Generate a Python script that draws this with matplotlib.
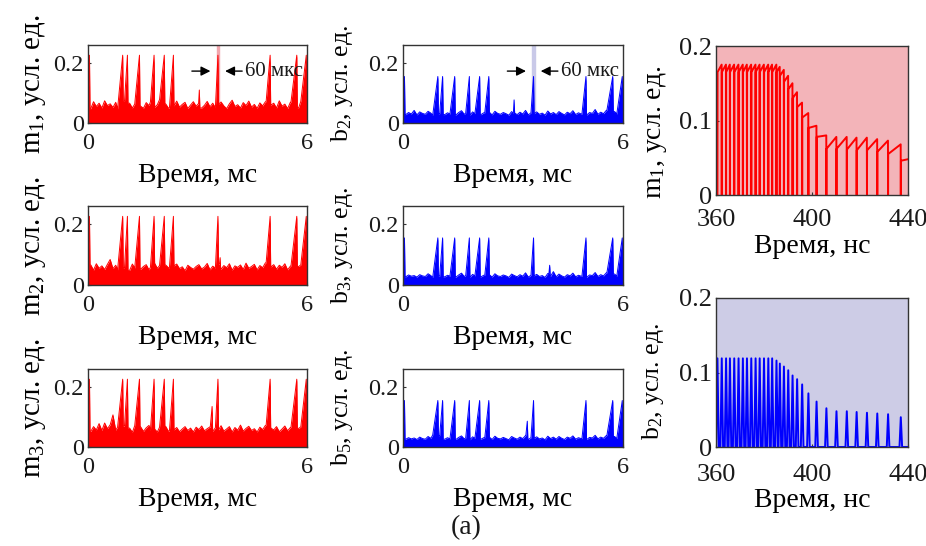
import numpy as np
import matplotlib
matplotlib.use("Agg")
import matplotlib.pyplot as plt

plt.rcParams["font.family"] = ["Liberation Serif", "DejaVu Serif"]
plt.rcParams["mathtext.fontset"] = "custom"
plt.rcParams["mathtext.rm"] = "Liberation Serif"
plt.rcParams["mathtext.it"] = "Liberation Serif:italic"
plt.rcParams["text.color"] = "#1a1a1a"

# ---- left / middle panels: slow time traces, 0..6 ms ----
spike_t = [0.04, 0.95, 1.08, 1.41, 1.81, 2.09, 2.34, 3.56, 4.99, 5.72, 5.98]
spike_w = [0.04, 0.14, 0.08, 0.13, 0.10, 0.13, 0.11, 0.07, 0.11, 0.16, 0.15]

m1_base = [0.062, 0.048, 0.071, 0.055, 0.066, 0.050, 0.074, 0.058, 0.064, 0.052,
           0.069, 0.047, 0.060, 0.072, 0.054, 0.066, 0.050, 0.063, 0.075, 0.056,
           0.049, 0.068, 0.058, 0.070, 0.052, 0.061, 0.078, 0.055, 0.064, 0.050,
           0.067, 0.057, 0.073, 0.053, 0.062, 0.069, 0.048, 0.060, 0.071, 0.056,
           0.065, 0.050, 0.059, 0.072, 0.054, 0.066, 0.051, 0.063, 0.070, 0.057,
           0.048, 0.064, 0.076, 0.055, 0.061, 0.050, 0.068, 0.058, 0.073, 0.053,
           0.062, 0.049, 0.067, 0.057, 0.071, 0.052, 0.060, 0.066, 0.050, 0.074,
           0.056, 0.063, 0.048, 0.069, 0.058, 0.065, 0.051, 0.072, 0.055, 0.060]
m2_base = [0.058, 0.066, 0.049, 0.070, 0.055, 0.063, 0.051, 0.068, 0.084, 0.054,
           0.065, 0.050, 0.071, 0.057, 0.062, 0.048, 0.069, 0.056, 0.073, 0.052,
           0.061, 0.067, 0.050, 0.058, 0.072, 0.055, 0.064, 0.049, 0.066, 0.057,
           0.052, 0.063, 0.069, 0.054, 0.060, 0.047, 0.065, 0.058, 0.052, 0.061,
           0.067, 0.053, 0.059, 0.071, 0.050, 0.062, 0.056, 0.068, 0.052, 0.064,
           0.057, 0.070, 0.049, 0.063, 0.058, 0.066, 0.051, 0.072, 0.055, 0.061,
           0.068, 0.050, 0.064, 0.057, 0.073, 0.053, 0.060, 0.067, 0.052, 0.065,
           0.058, 0.070, 0.050, 0.062, 0.069, 0.054, 0.061, 0.066, 0.052, 0.063]
m3_base = [0.060, 0.052, 0.068, 0.057, 0.078, 0.055, 0.080, 0.061, 0.074, 0.107,
           0.056, 0.066, 0.051, 0.070, 0.058, 0.063, 0.049, 0.071, 0.055, 0.067,
           0.052, 0.064, 0.072, 0.056, 0.060, 0.050, 0.066, 0.058, 0.069, 0.053,
           0.062, 0.057, 0.065, 0.051, 0.060, 0.068, 0.055, 0.063, 0.050, 0.066,
           0.058, 0.070, 0.054, 0.061, 0.067, 0.052, 0.064, 0.057, 0.071, 0.053,
           0.060, 0.068, 0.050, 0.065, 0.056, 0.073, 0.053, 0.062, 0.069, 0.055,
           0.061, 0.050, 0.066, 0.058, 0.072, 0.052, 0.063, 0.057, 0.068, 0.051,
           0.060, 0.070, 0.054, 0.065, 0.080, 0.057, 0.062, 0.067, 0.052, 0.061]
b2_base = [0.040, 0.028, 0.035, 0.030, 0.042, 0.027, 0.037, 0.032, 0.029, 0.039,
           0.033, 0.026, 0.036, 0.031, 0.044, 0.028, 0.034, 0.030, 0.038, 0.027,
           0.035, 0.041, 0.029, 0.033, 0.026, 0.037, 0.031, 0.045, 0.028, 0.034,
           0.030, 0.036, 0.027, 0.039, 0.032, 0.029, 0.035, 0.031, 0.026, 0.038,
           0.033, 0.028, 0.036, 0.030, 0.042, 0.027, 0.034, 0.031, 0.037, 0.029,
           0.033, 0.026, 0.040, 0.030, 0.035, 0.028, 0.038, 0.032, 0.027, 0.036,
           0.031, 0.041, 0.028, 0.034, 0.030, 0.039, 0.027, 0.035, 0.032, 0.045,
           0.029, 0.036, 0.031, 0.042, 0.028, 0.034, 0.038, 0.030, 0.036, 0.033]
b3_base = [0.036, 0.027, 0.033, 0.029, 0.031, 0.026, 0.034, 0.030, 0.028, 0.037,
           0.031, 0.025, 0.042, 0.029, 0.035, 0.027, 0.032, 0.029, 0.036, 0.026,
           0.033, 0.039, 0.028, 0.031, 0.025, 0.035, 0.030, 0.041, 0.027, 0.032,
           0.029, 0.034, 0.026, 0.037, 0.030, 0.028, 0.033, 0.030, 0.025, 0.036,
           0.031, 0.027, 0.034, 0.029, 0.040, 0.026, 0.032, 0.030, 0.035, 0.028,
           0.031, 0.025, 0.038, 0.029, 0.044, 0.027, 0.036, 0.030, 0.026, 0.034,
           0.030, 0.039, 0.027, 0.032, 0.029, 0.037, 0.026, 0.033, 0.031, 0.041,
           0.028, 0.034, 0.030, 0.040, 0.027, 0.032, 0.036, 0.029, 0.034, 0.031]
b5_base = [0.034, 0.026, 0.031, 0.027, 0.030, 0.025, 0.033, 0.028, 0.026, 0.035,
           0.029, 0.040, 0.030, 0.038, 0.033, 0.026, 0.031, 0.027, 0.035, 0.025,
           0.032, 0.037, 0.027, 0.030, 0.024, 0.034, 0.029, 0.039, 0.026, 0.031,
           0.028, 0.033, 0.025, 0.036, 0.029, 0.027, 0.032, 0.028, 0.024, 0.035,
           0.030, 0.026, 0.033, 0.028, 0.038, 0.025, 0.031, 0.029, 0.034, 0.027,
           0.030, 0.024, 0.036, 0.028, 0.033, 0.026, 0.035, 0.029, 0.025, 0.033,
           0.029, 0.037, 0.026, 0.031, 0.028, 0.036, 0.025, 0.032, 0.030, 0.039,
           0.027, 0.033, 0.029, 0.038, 0.026, 0.031, 0.035, 0.028, 0.033, 0.030]

m_peak = 0.226
b_peak = 0.155
# extra small peaks: (time, height, width)
m1_small = [(3.05, 0.110, 0.02)]
m2_small = [(3.62, 0.090, 0.02)]
m3_small = [(3.40, 0.135, 0.05)]
b2_small = [(3.03, 0.077, 0.02)]
b3_small = [(4.00, 0.065, 0.02)]
b5_small = [(3.39, 0.086, 0.04)]

# ---- right panels: fast time, 360..440 ns ----
pulse_t = [360.6, 362.4, 364.2, 365.8, 367.6, 369.4, 371.2, 372.9, 374.7, 376.5,
           378.2, 380.0, 381.8, 383.4, 385.2, 386.6, 388.3, 390.1, 391.9, 393.8,
           395.9, 398.5, 401.9, 406.0, 410.2, 414.5, 418.6, 422.9, 427.2, 431.7, 437.0]
b2_fast = [0.119, 0.119, 0.119, 0.119, 0.119, 0.119, 0.119, 0.119, 0.119, 0.119,
           0.119, 0.119, 0.119, 0.119, 0.116, 0.112, 0.108, 0.103, 0.096, 0.091,
           0.084, 0.072, 0.061, 0.052, 0.048, 0.048, 0.047, 0.046, 0.045, 0.044, 0.040]
m1_lo = [0.165, 0.165, 0.165, 0.165, 0.165, 0.165, 0.165, 0.165, 0.165, 0.165,
         0.165, 0.165, 0.165, 0.165, 0.165, 0.160, 0.152, 0.142, 0.130, 0.118,
         0.104, 0.090, 0.078, 0.062, 0.062, 0.061, 0.060, 0.060, 0.058, 0.055, 0.046]
m1_hi = [0.175, 0.175, 0.175, 0.175, 0.175, 0.175, 0.175, 0.175, 0.175, 0.175,
         0.175, 0.175, 0.175, 0.175, 0.172, 0.168, 0.160, 0.150, 0.138, 0.124,
         0.110, 0.093, 0.080, 0.078, 0.078, 0.077, 0.077, 0.075, 0.073, 0.068, 0.048]


def build_trace(base, height, small):
    base = np.asarray(base)
    t = np.linspace(0, 6, len(base))
    peaks = [(tp, height, w) for tp, w in zip(spike_t, spike_w)] + list(small)
    keep = np.ones(len(t), bool)
    for tp, h, w in peaks:
        keep &= ~((t > tp - w) & (t < tp + 0.02))
    pts = list(zip(t[keep], base[keep]))
    for tp, h, w in peaks:
        foot = base[np.argmin(np.abs(t - (tp - w)))]
        after = base[np.argmin(np.abs(t - (tp + 0.03)))]
        pts += [(max(tp - w, 0), foot), (tp, h), (min(tp + 0.015, 6), after)]
    pts.sort()
    return np.array(pts).T


def fast_m(times, lo, hi, end=440.0):
    xs, ys = [], []
    edges = list(times) + [end]
    for i in range(len(times)):
        xs += [edges[i], edges[i] + 0.05, edges[i + 1] - 0.05]
        ys += [0.0, lo[i], hi[i]]
    xs.append(end)
    ys.append(hi[-1])
    return np.array(xs), np.array(ys)


def fast_b(times, peaks, half=0.55):
    xs, ys = [360.0], [0.0]
    for tp, h in zip(times, peaks):
        xs += [tp - half, tp, tp + half]
        ys += [0.0, h, 0.0]
    xs.append(440.0)
    ys.append(0.0)
    return np.array(xs), np.array(ys)


W, H = 926, 546
fig = plt.figure(figsize=(W / 100, H / 100), dpi=100)


def add_ax(x0, y0, x1, y1):
    return fig.add_axes([x0 / W, 1 - y1 / H, (x1 - x0) / W, (y1 - y0) / H])


def style(ax, size, xpad):
    for s in ax.spines.values():
        s.set_color("#333333")
        s.set_linewidth(1.0)
    ax.tick_params(direction="in", length=2.5, labelsize=size, pad=3,
                   colors="#333333", labelcolor="#1a1a1a")
    ax.tick_params(axis="x", pad=xpad)


rows = [(45, 123), (206, 285), (369, 447)]
left_panels = [(m1_base, m1_small, r"m$_1$, усл. ед."),
               (m2_base, m2_small, r"m$_2$, усл. ед."),
               (m3_base, m3_small, r"m$_3$, усл. ед.")]
mid_panels = [(b2_base, b2_small, r"b$_2$, усл. ед."),
              (b3_base, b3_small, r"b$_3$, усл. ед."),
              (b5_base, b5_small, r"b$_5$, усл. ед.")]

for col, panels, color, hgt, x0, x1 in [(0, left_panels, "#ff0000", m_peak, 88, 307),
                                          (1, mid_panels, "#0000ff", b_peak, 403, 623)]:
    for r, (base, small, lab) in enumerate(panels):
        ax = add_ax(x0, rows[r][0], x1, rows[r][1])
        t, y = build_trace(base, hgt, small)
        ax.fill_between(t, 0, y, color=color, lw=0)
        ax.plot(t, y, color=color, lw=0.7)
        ax.set_xlim(0, 6)
        ax.set_ylim(0, 0.26)
        ax.set_xticks([0, 6])
        ax.set_yticks([0, 0.2])
        ax.set_yticklabels(["0", "0.2"])
        ax.set_xlabel("Время, мс", fontsize=20, labelpad=7)
        if col == 0:
            ax.set_ylabel(lab, fontsize=21, labelpad=4)
        else:
            ax.set_ylabel(lab, fontsize=18.5, labelpad=10)
        style(ax, 17.5, 7)
        if r == 0:
            band = "#f2a7ae" if col == 0 else "#c9c9e8"
            ax.axvspan(3.53, 3.60, color=band, zorder=0)
            ap = dict(arrowstyle="-|>", color="k", lw=1.0, mutation_scale=14)
            ax.annotate("", xy=(3.43, 0.173), xytext=(2.77, 0.173), arrowprops=ap)
            ax.annotate("", xy=(3.68, 0.173), xytext=(4.30, 0.173), arrowprops=ap)
            ax.text(4.30, 0.173, "60 мкс", fontsize=15, va="center", ha="left")

# right column
ax = add_ax(716, 46, 908, 195)
ax.set_facecolor("#f3b4b9")
x, y = fast_m(pulse_t, m1_lo, m1_hi)
ax.plot(x, y, color="#ff0000", lw=1.4)
ax.set_xlim(360, 440)
ax.set_ylim(0, 0.2)
ax.set_xticks([360, 400, 440])
ax.set_yticks([0, 0.1, 0.2])
ax.set_yticklabels(["0", "0.1", "0.2"])
ax.set_xlabel("Время, нс", fontsize=20, labelpad=2)
ax.set_ylabel(r"m$_1$, усл. ед.", fontsize=20, labelpad=7)
ax.yaxis.label.set_y(0.42)
style(ax, 19, 10)

ax = add_ax(716, 298, 908, 447)
ax.set_facecolor("#cdcce6")
x, y = fast_b(pulse_t, b2_fast)
ax.plot(x, y, color="#0000ff", lw=1.4)
ax.set_xlim(360, 440)
ax.set_ylim(0, 0.2)
ax.set_xticks([360, 400, 440])
ax.set_yticks([0, 0.1, 0.2])
ax.set_yticklabels(["0", "0.1", "0.2"])
ax.set_xlabel("Время, нс", fontsize=20, labelpad=2)
ax.set_ylabel(r"b$_2$, усл. ед.", fontsize=18.5, labelpad=9)
ax.yaxis.label.set_y(0.44)
style(ax, 19, 12)

fig.text(466 / W, 1 - 528 / H, "(a)", fontsize=20, ha="center", va="center")

fig.savefig("out.png", dpi=100)
plt.close(fig)
